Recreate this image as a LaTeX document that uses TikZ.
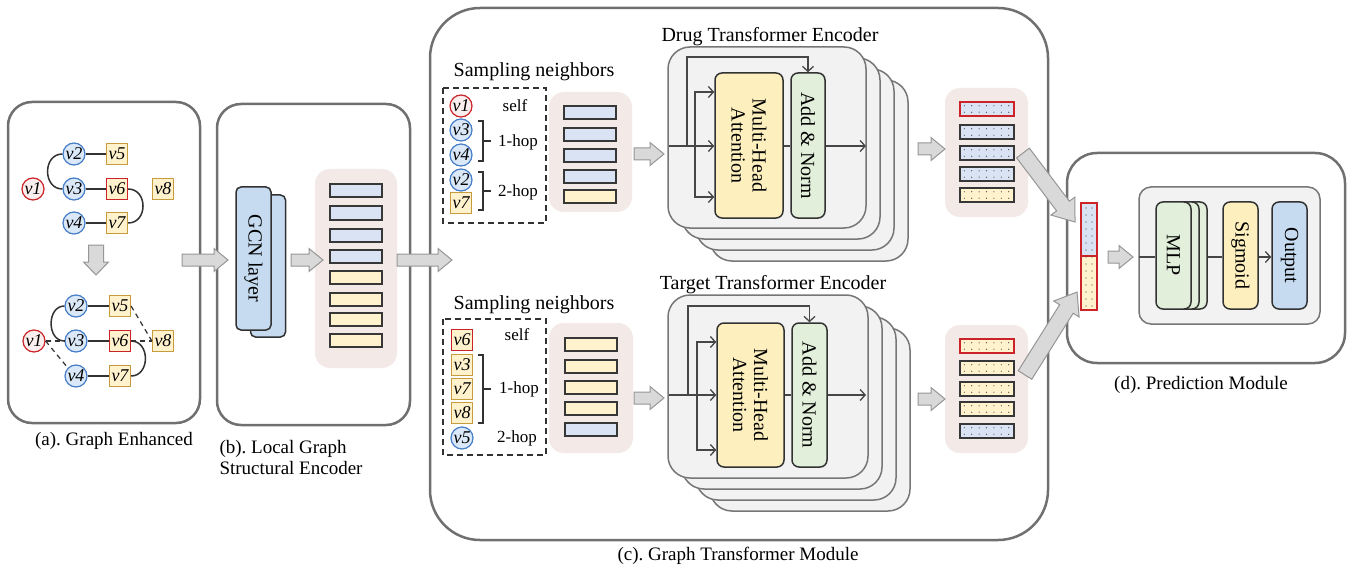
\documentclass[tikz,border=0pt]{standalone}
\usepackage{fontspec}
\setmainfont{Liberation Serif}
\usetikzlibrary{arrows.meta,calc}
\frenchspacing
\definecolor{panelgray}{RGB}{112,112,112}
\definecolor{encfill}{RGB}{242,242,242}
\definecolor{encdraw}{RGB}{118,118,118}
\definecolor{pinkbg}{RGB}{243,234,232}
\definecolor{barblue}{RGB}{218,227,243}
\definecolor{baryel}{RGB}{255,242,204}
\definecolor{bardark}{RGB}{55,55,55}
\definecolor{nodeblue}{RGB}{70,125,200}
\definecolor{nodebluefill}{RGB}{218,232,248}
\definecolor{gold}{RGB}{200,155,60}
\definecolor{nodeyel}{RGB}{255,242,204}
\definecolor{nodered}{RGB}{204,35,40}
\definecolor{noderedfill}{RGB}{250,238,238}
\definecolor{gcnblue}{RGB}{198,219,240}
\definecolor{mhayel}{RGB}{253,240,190}
\definecolor{angreen}{RGB}{226,239,218}
\definecolor{arrowfill}{RGB}{217,217,217}
\definecolor{arrowdraw}{RGB}{150,150,150}
\definecolor{edgedark}{RGB}{50,50,50}
\definecolor{linegray}{RGB}{70,70,70}
\newcommand\vnfont{\fontsize{18}{18}\selectfont\itshape}
\newcommand\smfont{\fontsize{17}{19}\selectfont}
\newcommand\lgfont{\fontsize{20}{21}\selectfont}
\newcommand\capfont{\fontsize{19}{21}\selectfont}
\tikzset{
  pics/barrow/.style args={#1/#2/#3/#4}{code={%
    \draw[barrowsty] (0,-#2) -- (#1-#4,-#2) -- (#1-#4,-#3) -- (#1,0) -- (#1-#4,#3) -- (#1-#4,#2) -- (0,#2) -- cycle;}},
  barrowsty/.style={fill=arrowfill, draw=arrowdraw, line width=1pt, line join=miter},
}
\newcommand\dotbar[6]{% name, x, y, fill, border, width
  \node[tokbar, fill=#4, draw=#5, minimum width=#6pt] (#1) at (#2,#3) {};
  \foreach \i in {-3,...,3} {\fill[black!75] (#2+\i*7.4,#3-3.2) circle (0.6);
    \fill[black!75] (#2+\i*7.4,#3+3.2) circle (0.6);}
}
\begin{document}
\begin{tikzpicture}[x=1pt,y=-1pt,
  panel/.style={draw=panelgray, line width=2.5pt, fill=white},
  vb/.style={circle, draw=nodeblue, fill=nodebluefill, line width=1.2pt, minimum size=22pt, inner sep=0pt, font=\vnfont},
  vr/.style={vb, draw=nodered, fill=noderedfill},
  vy/.style={rectangle, draw=gold, fill=nodeyel, line width=1.2pt, minimum size=21pt, inner sep=0pt, font=\vnfont},
  vyr/.style={vy, draw=nodered},
  gedge/.style={draw=edgedark, line width=1.5pt},
  dedge/.style={draw=edgedark, line width=1.2pt, dash pattern=on 5pt off 4pt},
  bar/.style={rectangle, draw=bardark, line width=2pt, minimum width=52pt, minimum height=13pt, inner sep=0pt},
  tokbar/.style={rectangle, line width=2pt, minimum height=14pt, inner sep=0pt},
  pink/.style={fill=pinkbg, rounded corners=15pt},
  brk/.style={draw=edgedark, line width=1.3pt},
  encbox/.style={draw=encdraw, fill=encfill, line width=1.5pt, rounded corners=22pt},
  ibox/.style={rectangle, draw=edgedark, line width=1.5pt, rounded corners=7pt, inner sep=0pt},
  conn/.style={draw=linegray, line width=1.3pt},
  arr/.style={conn, -{Straight Barb[length=5pt,width=11pt,line width=1.3pt]}},
]
\useasboundingbox (0,0) rectangle (1354,572);

% ---------------- panels ----------------
\draw[panel, rounded corners=24pt] (8,102) rectangle (200,423);
\draw[panel, rounded corners=24pt] (217,104) rectangle (410,425);
\draw[panel, rounded corners=50pt] (430,8) rectangle (1048,540);
\draw[panel, rounded corners=30pt] (1067,153) rectangle (1345,363);

% ---------------- (a) graph ----------------
\node[vb] (a2) at (74,154) {v2};
\node[vy] (a5) at (117,154) {v5};
\node[vr] (a1) at (33,189) {v1};
\node[vb] (a3) at (74,189) {v3};
\node[vyr] (a6) at (117,189) {v6};
\node[vy] (a8) at (163,189) {v8};
\node[vb] (a4) at (74,223) {v4};
\node[vy] (a7) at (117,223) {v7};
\draw[gedge] (a2) -- (a5);
\draw[gedge] (a3) -- (a6);
\draw[gedge] (a4) -- (a7);
\draw[gedge] (a2.west) to[out=180,in=180,looseness=1.45] (a3.west);
\draw[gedge] (a6.east) to[out=0,in=0,looseness=1.5] (a7.east);

\pic[rotate=-90] at (96,245) {barrow=30/7.5/12.5/13};

\node[vb] (b2) at (76,306) {v2};
\node[vy] (b5) at (120,306) {v5};
\node[vr] (b1) at (34,341) {v1};
\node[vb] (b3) at (76,341) {v3};
\node[vyr] (b6) at (120,341) {v6};
\node[vy] (b8) at (163,341) {v8};
\node[vb] (b4) at (76,376) {v4};
\node[vy] (b7) at (120,376) {v7};
\draw[gedge] (b2) -- (b5);
\draw[gedge] (b3) -- (b6);
\draw[gedge] (b4) -- (b7);
\draw[gedge] (b2.west) to[out=180,in=180,looseness=1.3] (b3.west);
\draw[gedge] (b6.east) to[out=0,in=0,looseness=1.4] (b7.east);
\draw[dedge] (b5.east) -- (b8.west);
\draw[dedge] (b6.east) -- (b8.west);
\draw[dedge] (b1.east) -- (b3.west);
\draw[dedge] (b1.east) -- (b4.north west);

\node[font=\capfont] (capa) at (114,441) {(a). Graph Enhanced};

% ---------------- (b) local encoder ----------------
\node[ibox, fill=gcnblue, rounded corners=5pt, minimum width=35pt, minimum height=142pt] (gcnback) at (268,266) {};
\node[ibox, fill=gcnblue, rounded corners=5pt, minimum width=35pt, minimum height=143pt] (gcn) at (253.5,258.5) {};
\node[rotate=-90, font=\lgfont] at (gcn) {GCN layer};

\fill[pink] (315,169) rectangle (397,368);
\foreach \yy/\cc [count=\k] in {191/barblue,213/barblue,235/barblue,256/barblue,277/baryel,299/baryel,319/baryel,340/baryel}
  \node[bar, fill=\cc] (lb\k) at (356,\yy) {};

\node[font=\capfont, align=left, anchor=west] (capb) at (216,457) {(b). Local Graph\\Structural Encoder};

% ---------------- (c) sampling ----------------
\node[font=\lgfont] (samp1) at (534,72) {Sampling neighbors};
\draw[edgedark, line width=1.8pt, dash pattern=on 6pt off 4pt] (443,88) rectangle (546,223);
\node[vr] (s1) at (461,106) {v1};
\node[vb] (s3) at (461,130) {v3};
\node[vb] (s4) at (461,155) {v4};
\node[vb] (s2) at (461,180) {v2};
\node[vy] (s7) at (461,203) {v7};
\node[font=\smfont] (self1) at (515,106) {self};
\draw[brk] (478,121) -- (483,121) -- (483,161) -- (478,161);
\draw[brk] (483,141) -- (491,141);
\node[font=\smfont] (hop1a) at (518,142) {1-hop};
\draw[brk] (478,172) -- (483,172) -- (483,210) -- (478,210);
\draw[brk] (483,191) -- (491,191);
\node[font=\smfont] (hop2a) at (518,192) {2-hop};

\fill[pink] (549,92) rectangle (632,212);
\foreach \yy/\cc [count=\k] in {113/barblue,135/barblue,156/barblue,177/barblue,197/baryel}
  \node[bar, fill=\cc] (sb\k) at (589.5,\yy) {};

\node[font=\lgfont] (samp2) at (534,305) {Sampling neighbors};
\draw[edgedark, line width=1.8pt, dash pattern=on 6pt off 4pt] (443,319) rectangle (546,455);
\node[vyr] (t6) at (462,340) {v6};
\node[vy] (t3) at (462,365) {v3};
\node[vy] (t7) at (462,389) {v7};
\node[vy] (t8) at (462,413) {v8};
\node[vb] (t5) at (462,438) {v5};
\node[font=\smfont] (self2) at (517,335) {self};
\draw[brk] (478,355) -- (483,355) -- (483,423) -- (478,423);
\draw[brk] (483,389) -- (491,389);
\node[font=\smfont] (hop1b) at (519,389) {1-hop};
\node[font=\smfont] (hop2b) at (517,438) {2-hop};

\fill[pink] (549,323) rectangle (633,453);
\foreach \yy/\cc [count=\k] in {344/baryel,366/baryel,387/baryel,408/baryel,429/barblue}
  \node[bar, fill=\cc] (tb\k) at (590.5,\yy) {};

% ---------------- (c) encoders ----------------
\node[font=\lgfont] (dtitle) at (770,37) {Drug Transformer Encoder};
\foreach \k in {3,2,1,0}
  \draw[encbox] (668+14*\k,47+11*\k) rectangle (866+14*\k,228+11*\k);
\node[ibox, fill=mhayel, minimum width=68pt, minimum height=145pt] (mha1) at (749,145.5) {};
\node[rotate=-90, font=\lgfont, align=center] at (mha1) {Multi-Head\\Attention};
\node[ibox, fill=angreen, minimum width=34pt, minimum height=145pt] (an1) at (808,145.5) {};
\node[rotate=-90, font=\lgfont] at (an1) {Add \& Norm};
\coordinate (in1) at (669,146);
\coordinate (out1) at (866,146);
\draw[arr] (in1) -- (mha1.west |- in1);
\draw[arr] (695,146) -- (695,92) -- (mha1.west |- 0,92);
\draw[arr] (695,146) -- (695,197) -- (mha1.west |- 0,197);
\draw[arr] (687,146) -- (687,57) -- (an1.north |- 0,57) -- (an1.north);
\draw[conn] (mha1.east |- in1) -- (an1.west |- in1);
\draw[arr] (an1.east |- in1) -- (out1);

\node[font=\lgfont] (ttitle) at (773,285) {Target Transformer Encoder};
\foreach \k in {3,2,1,0}
  \draw[encbox] (668+14*\k,295+11*\k) rectangle (868+14*\k,478+11*\k);
\node[ibox, fill=mhayel, minimum width=67pt, minimum height=144pt] (mha2) at (750.5,395) {};
\node[rotate=-90, font=\lgfont, align=center] at (mha2) {Multi-Head\\Attention};
\node[ibox, fill=angreen, minimum width=35pt, minimum height=144pt] (an2) at (809.5,395) {};
\node[rotate=-90, font=\lgfont] at (an2) {Add \& Norm};
\coordinate (in2) at (669,395);
\coordinate (out2) at (866,395);
\draw[arr] (in2) -- (mha2.west |- in2);
\draw[arr] (697,395) -- (697,342) -- (mha2.west |- 0,342);
\draw[arr] (697,395) -- (697,450) -- (mha2.west |- 0,450);
\draw[arr] (688,395) -- (688,306) -- (an2.north |- 0,306) -- (an2.north);
\draw[conn] (mha2.east |- in2) -- (an2.west |- in2);
\draw[arr] (an2.east |- in2) -- (out2);

% ---------------- (c) output tokens ----------------
\fill[pink] (945,88) rectangle (1028,217);
\dotbar{ob1}{986.5}{109}{barblue}{nodered}{54}
\dotbar{ob2}{986.5}{132}{barblue}{bardark}{54}
\dotbar{ob3}{986.5}{153}{barblue}{bardark}{54}
\dotbar{ob4}{986.5}{174}{barblue}{bardark}{54}
\dotbar{ob5}{986.5}{195}{baryel}{bardark}{54}

\fill[pink] (945,325) rectangle (1028,453);
\dotbar{ot1}{986.5}{346}{baryel}{nodered}{54}
\dotbar{ot2}{986.5}{368}{baryel}{bardark}{54}
\dotbar{ot3}{986.5}{389}{baryel}{bardark}{54}
\dotbar{ot4}{986.5}{409}{baryel}{bardark}{54}
\dotbar{ot5}{986.5}{431}{barblue}{bardark}{54}

\node[font=\capfont] (capc) at (738,556) {(c). Graph Transformer Module};

% ---------------- (d) prediction ----------------
\node[rectangle, draw=nodered, line width=1.8pt, fill=barblue, minimum width=16pt, minimum height=53pt, inner sep=0pt] (cv1) at (1089,229.5) {};
\node[rectangle, draw=nodered, line width=1.8pt, fill=baryel, minimum width=16pt, minimum height=54pt, inner sep=0pt] (cv2) at (1089,283) {};
\foreach \r in {0,...,14} {
  \fill[black!75] (1086,208+\r*7) circle (0.6);
  \fill[black!75] (1092,208+\r*7) circle (0.6);}

\draw[draw=encdraw, fill=encfill, line width=1.5pt, rounded corners=12pt] (1139,187) rectangle (1320,324);
\coordinate (pin) at (1139,257);
\node[ibox, fill=angreen, minimum width=35pt, minimum height=107pt] (mlp3) at (1189.5,255.5) {};
\node[ibox, fill=angreen, minimum width=35pt, minimum height=107pt] (mlp2) at (1181.5,255.5) {};
\node[ibox, fill=angreen, minimum width=35pt, minimum height=107pt] (mlp) at (1173.5,255.5) {};
\node[rotate=-90, font=\lgfont] at (mlp) {MLP};
\node[ibox, fill=mhayel, minimum width=35pt, minimum height=107pt] (sig) at (1240.5,255.5) {};
\node[rotate=-90, font=\lgfont] at (sig) {Sigmoid};
\node[ibox, fill=gcnblue, minimum width=35pt, minimum height=107pt] (outp) at (1289.5,255.5) {};
\node[rotate=-90, font=\lgfont] at (outp) {Output};
\draw[conn] (pin) -- (mlp.west |- pin);
\draw[conn] (mlp3.east |- pin) -- (sig.west |- pin);
\draw[arr] (sig.east |- pin) -- (outp.west |- pin);

\node[font=\capfont] (capd) at (1201,385) {(d). Prediction Module};

% ---------------- block arrows ----------------
\pic at (182,260) {barrow=46/6/11.5/14};
\pic at (291,260) {barrow=32/6/11.5/14};
\pic at (397,260) {barrow=55/6/11.5/14};
\pic at (634,154) {barrow=30/6/11.5/14};
\pic at (634,398) {barrow=30/6/11.5/14};
\pic at (918,149) {barrow=27/6/11.5/14};
\pic at (918,399) {barrow=27/6/11.5/14};
\pic[rotate=-53] at (1023,153) {barrow=86.4/8/15/20};
\pic[rotate=57.9] at (1025,375) {barrow=97.9/8/15/20};
\pic at (1108,257) {barrow=25/6/11.5/14};
\end{tikzpicture}
\end{document}
